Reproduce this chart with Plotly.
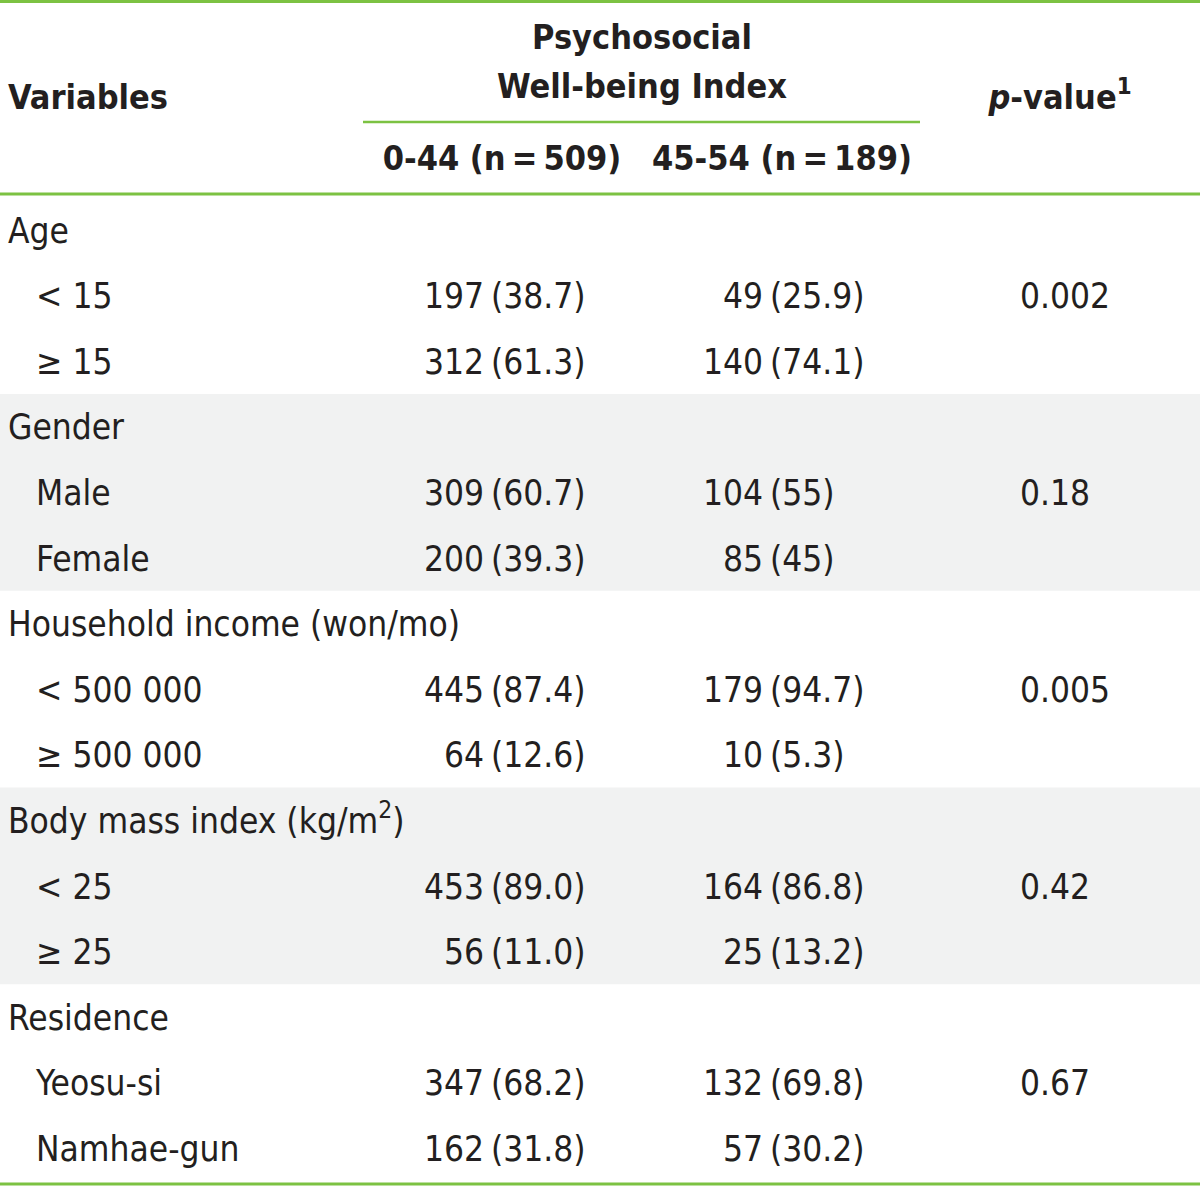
import plotly.graph_objects as go

# ---------------- data ----------------
groups = ["Age", "Gender", "Household income (won/mo)",
          "Body mass index (kg/m<sup>2</sup>)", "Residence"]
levels = [["&lt; 15", "≥ 15"], ["Male", "Female"], ["&lt; 500 000", "≥ 500 000"],
          ["&lt; 25", "≥ 25"], ["Yeosu-si", "Namhae-gun"]]
n_low = [[197, 312], [309, 200], [445, 64], [453, 56], [347, 162]]
pct_low = [["38.7", "61.3"], ["60.7", "39.3"], ["87.4", "12.6"], ["89.0", "11.0"], ["68.2", "31.8"]]
n_high = [[49, 140], [104, 85], [179, 10], [164, 25], [132, 57]]
pct_high = [["25.9", "74.1"], ["55", "45"], ["94.7", "5.3"], ["86.8", "13.2"], ["69.8", "30.2"]]
p_values = ["0.002", "0.18", "0.005", "0.42", "0.67"]
shaded_groups = [1, 3]

col_headers = ["0-44 (n\u2009=\u2009509)", "45-54 (n\u2009=\u2009189)"]
span_header = ["Psychosocial", "Well-being Index"]
var_header = "Variables"
p_header = "<i>p</i>-value<sup>1</sup>"

# ---------------- style ----------------
W, H = 1200, 1186
GREEN = "#7cc242"
GREY = "#f1f2f2"
INK = "#231f20"
FONT = "DejaVu Sans Condensed, Roboto, sans-serif"
FS = 35
HFS = 34

row0 = 234.0
dy = 65.58
x_group = 8
x_level = 36
x_c1, x_par1 = 484, 491
x_c2, x_par2 = 763, 770
x_p = 1020

def ypos(g, k):
    return row0 + (g * 3 + k) * dy

lab_x, lab_y, lab_t = [], [], []
cnt_x, cnt_y, cnt_t = [], [], []
par_x, par_y, par_t = [], [], []
p_x, p_y, p_t = [], [], []

for g, name in enumerate(groups):
    lab_x.append(x_group); lab_y.append(ypos(g, 0)); lab_t.append(name)
    for k, lv in enumerate(levels[g]):
        y = ypos(g, k + 1)
        lab_x.append(x_level); lab_y.append(y); lab_t.append(lv)
        cnt_x += [x_c1, x_c2]; cnt_y += [y, y]
        cnt_t += [str(n_low[g][k]), str(n_high[g][k])]
        par_x += [x_par1, x_par2]; par_y += [y, y]
        par_t += ["(" + pct_low[g][k] + ")", "(" + pct_high[g][k] + ")"]
    p_x.append(x_p); p_y.append(ypos(g, 1)); p_t.append(p_values[g])

tf = dict(family=FONT, size=FS, color=INK)
fig = go.Figure()
fig.add_trace(go.Scatter(x=lab_x, y=lab_y, text=lab_t, mode="text",
                         textposition="middle right", textfont=tf, hoverinfo="skip"))
fig.add_trace(go.Scatter(x=cnt_x, y=cnt_y, text=cnt_t, mode="text",
                         textposition="middle left", textfont=tf, hoverinfo="skip"))
fig.add_trace(go.Scatter(x=par_x, y=par_y, text=par_t, mode="text",
                         textposition="middle right", textfont=tf, hoverinfo="skip"))
fig.add_trace(go.Scatter(x=p_x, y=p_y, text=p_t, mode="text",
                         textposition="middle right", textfont=tf, hoverinfo="skip"))

hf = dict(family=FONT, size=HFS, color=INK, weight="bold")
fig.add_trace(go.Scatter(x=[x_group], y=[100], text=[var_header], mode="text",
                         textposition="middle right", textfont=hf, hoverinfo="skip"))
fig.add_trace(go.Scatter(x=[642, 642], y=[40, 89], text=span_header, mode="text",
                         textposition="middle center", textfont=hf, hoverinfo="skip"))
fig.add_trace(go.Scatter(x=[502, 782], y=[161, 161], text=col_headers, mode="text",
                         textposition="middle center", textfont=hf, hoverinfo="skip"))
fig.add_trace(go.Scatter(x=[1060], y=[100], text=[p_header], mode="text",
                         textposition="middle center", textfont=hf, hoverinfo="skip"))

shapes = []
for g in shaded_groups:
    shapes.append(dict(type="rect", xref="x", yref="y", x0=0, x1=W,
                       y0=ypos(g, 0) - dy / 2 - 4, y1=ypos(g, 2) + dy / 2 - 4,
                       fillcolor=GREY, line=dict(width=0), layer="below"))
for (x0, x1, y, w) in [(0, W, 1.5, 3), (363, 920, 122, 2.5), (0, W, 194, 3), (0, W, 1184, 3)]:
    shapes.append(dict(type="line", xref="x", yref="y", x0=x0, x1=x1, y0=y, y1=y,
                       line=dict(color=GREEN, width=w)))

fig.update_layout(
    width=W, height=H, margin=dict(l=0, r=0, t=0, b=0),
    paper_bgcolor="white", plot_bgcolor="white", showlegend=False,
    xaxis=dict(range=[0, W], visible=False, fixedrange=True),
    yaxis=dict(range=[H, 0], visible=False, fixedrange=True),
    shapes=shapes,
)
fig.write_html("out.html", config={"displayModeBar": False},
               post_script="document.body.style.margin='0';document.body.style.overflow='hidden';")
